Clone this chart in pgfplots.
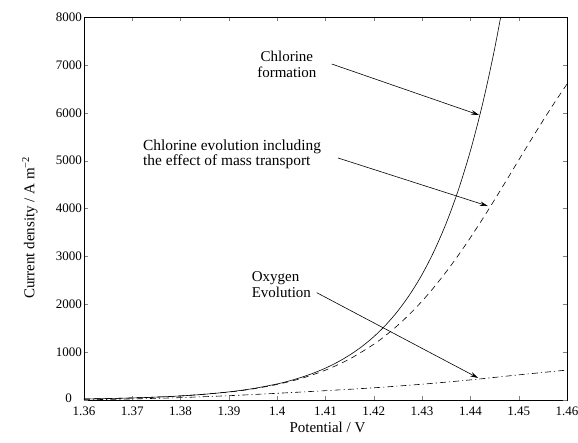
\documentclass[border=0pt]{standalone}
\usepackage{pgfplots}
\pgfplotsset{compat=1.18}
\usepackage{fontspec}
\setmainfont{Liberation Serif}
\usetikzlibrary{arrows.meta}
\begin{document}
\begin{tikzpicture}
\path[use as bounding box] (-84pt,-42pt) rectangle (494pt,400pt);
\begin{axis}[
  at={(0pt,0pt)}, anchor=south west,
  scale only axis, width=483pt, height=383pt,
  xmin=1.36, xmax=1.46, ymin=0, ymax=8000,
  xtick={1.36,1.37,1.38,1.39,1.40,1.41,1.42,1.43,1.44,1.45,1.46},
  ytick={1000,2000,3000,4000,5000,6000,7000,8000},
  extra y ticks={0},
  extra y tick style={yticklabel style={xshift=-10pt, yshift=2pt}},
  tick align=inside, major tick length=4pt,
  axis line style={line width=0.7pt},
  /pgf/number format/assume math mode=true,
  /pgf/number format/1000 sep={},
  xticklabel style={/pgf/number format/precision=2, font=\rmfamily\fontsize{13}{15}\selectfont, yshift=-3.5pt},
  yticklabel style={font=\rmfamily\fontsize{13}{15}\selectfont, inner sep=2pt},
  xlabel={Potential / V},
  ylabel={Current density / A m\textsuperscript{−2}},
  every axis x label/.style={at={(axis description cs:0.504,-0.0705)}, anchor=center, font=\rmfamily\fontsize{15}{17}\selectfont},
  every axis y label/.style={at={(axis description cs:-0.112,0.45)}, rotate=90, anchor=center, font=\rmfamily\fontsize{15}{17}\selectfont},
]
% Chlorine formation (solid)
\addplot[black, line width=0.6pt, smooth] coordinates {
(1.36,21.7) (1.365,30.6) (1.37,43.0) (1.375,60.6) (1.38,85.4) (1.385,120.3)
(1.39,169.4) (1.395,238.6) (1.40,336.1) (1.4025,398.8) (1.405,473.3) (1.4075,561.8)
(1.41,666.6) (1.4125,791.2) (1.415,939.0) (1.4175,1114.4)
(1.42,1322.6) (1.4225,1569.6) (1.425,1862.9) (1.4275,2210.7) (1.43,2623.5) (1.4325,3114) (1.435,3695.5)
(1.4375,4386) (1.44,5204.7) (1.4425,6176) (1.445,7330) (1.4475,8699) (1.45,10327)
};
% Chlorine with mass transport (dashed)
\addplot[black, line width=0.6pt, smooth, dash pattern=on 6pt off 4.5pt] coordinates {
(1.36,21.6) (1.37,42.8) (1.38,84.7) (1.39,166.5) (1.395,232.9) (1.40,324.9)
(1.405,451.4) (1.41,623.9) (1.415,856.4) (1.42,1164.4) (1.4225,1351.6) (1.425,1563.7)
(1.4275,1801.6) (1.43,2066.6) (1.4325,2359.3) (1.435,2678.7) (1.4375,3023.7) (1.44,3391.5)
(1.4425,3778.7) (1.445,4181.5) (1.4475,4593.9) (1.45,5011.1) (1.4525,5424.9)
(1.455,5831.3) (1.4575,6224.3) (1.46,6598.7)
};
% Oxygen evolution (dash-dot)
\addplot[black, line width=0.6pt, smooth, dash pattern=on 6pt off 3pt on 1.2pt off 3pt] coordinates {
(1.36,5) (1.365,12) (1.37,22) (1.375,35) (1.38,50) (1.39,90) (1.40,140)
(1.41,195) (1.42,255) (1.43,330) (1.44,420) (1.45,525) (1.46,625)
};
% annotations
\node[align=center, inner sep=0pt, font=\fontsize{15}{16}\selectfont] at (axis cs:1.4020,7008) {Chlorine\\formation};
\node[align=left, anchor=west, inner sep=0pt, font=\fontsize{15.4}{15.5}\selectfont] at (axis cs:1.3722,5128) {Chlorine evolution including\\the effect of mass transport};
\node[align=left, anchor=west, inner sep=0pt, font=\fontsize{15}{16.5}\selectfont] at (axis cs:1.3947,2406) {Oxygen\\Evolution};
\draw[line width=0.6pt, -{Stealth[length=8pt,width=4.5pt]}] (axis cs:1.4113,7018) -- (axis cs:1.4418,5953);
\draw[line width=0.6pt, -{Stealth[length=8pt,width=4.5pt]}] (axis cs:1.4126,5055) -- (axis cs:1.4436,4052);
\draw[line width=0.6pt, -{Stealth[length=8pt,width=4.5pt]}] (axis cs:1.4082,2241) -- (axis cs:1.4416,460);
\end{axis}
\end{tikzpicture}
\end{document}
